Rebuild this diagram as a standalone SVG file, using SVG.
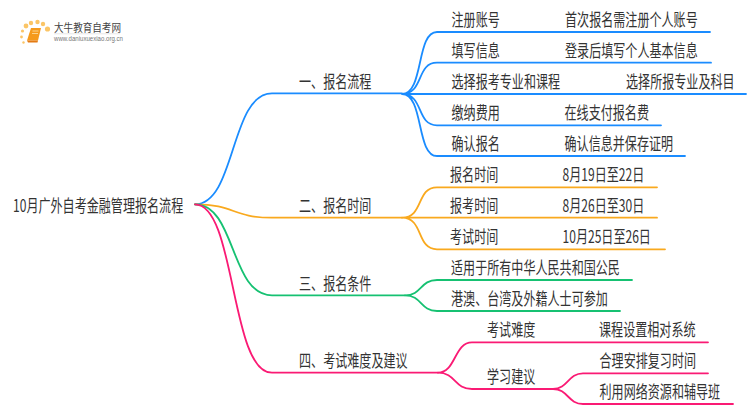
<svg xmlns="http://www.w3.org/2000/svg" width="750" height="410" viewBox="0 0 750 410">
<style>
text{font-family:"Noto Sans CJK SC","Microsoft YaHei",sans-serif;font-size:17px;fill:#333}
.l{fill:none;stroke-width:1.8;stroke-linecap:round}
.b{stroke:#1a8cff}.o{stroke:#f9a91e}.g{stroke:#16c172}.p{stroke:#fa1a74}
</style>
<rect width="750" height="410" fill="#fff"/>
<g id="logo">
<g fill="#fbc566"><circle cx="26" cy="26" r="2.4"/><circle cx="31" cy="23" r="2.200"/><circle cx="37.500" cy="22" r="2.200"/><circle cx="43" cy="24" r="2.200"/><circle cx="47.500" cy="29" r="2.600"/><circle cx="22.500" cy="31" r="1.600"/><circle cx="21.500" cy="37" r="1.400"/><circle cx="23.500" cy="42.500" r="1.200"/></g>
<path d="M31 28H41L38 40.500H27Z" fill="#f59a1c"/><path d="M27 40.500H38L37.500 42.500H28Z" fill="#e47a12"/><path d="M32.500 31H38.500M32 33.500H38" stroke="#fde2a8" stroke-width=".8"/>
<text transform="translate(54 32)" style="font-size:11px;fill:#444" textLength="67" lengthAdjust="spacingAndGlyphs">大牛教育自考网</text>
<path d="M54 33.800H120" stroke="#ddd" stroke-width=".7"/>
<text transform="translate(54 41)" style="font-size:6.500px;fill:#777;font-family:'Liberation Sans',sans-serif" textLength="69" lengthAdjust="spacingAndGlyphs">www.daniuxuexiao.org.cn</text>
</g>
<g id="connectors">
<path class="l b" d="M195 204.300C236 204.300 230 93.300 272 93.300H402"/>
<path class="l b" d="M402 94C424 94 416 32 437 32H710M402 94C424 94 416 62.700 437 62.700H711M402 94H746M402 94C424 94 416 125.300 437 125.300H661M402 94C424 94 416 156 437 156H685"/>
<path class="l o" d="M195 204.300C235 204.300 232 217.700 272 217.700H402"/>
<path class="l o" d="M402 217.700C424 217.700 416 187.300 437 187.300H657M402 217.700H657M402 217.700C424 217.700 416 249.300 437 249.300H665"/>
<path class="l g" d="M195 204.300C236 204.300 230 295.300 272 295.300H405"/>
<path class="l g" d="M405 295.300C422 295.300 420 280 437 280H632M405 295.300C422 295.300 420 311 437 311H620"/>
<path class="l p" d="M195 204.300C236 204.300 230 372.700 272 372.700H438"/>
<path class="l p" d="M438 372.700C456 372.700 454 342.300 472 342.300H708M438 372.700C456 372.700 454 389 472 389H553"/>
<path class="l p" d="M553 389C568 389 568 373.300 583 373.300H708M553 389C568 389 568 404 583 404H733"/>
</g>
<g id="root"><text transform="translate(13 212) scale(.71 1)">10月广外自考金融管理报名流程</text></g>
<g id="n1"><text transform="translate(299 87.500) scale(.71 1)">一、报名流程</text></g>
<g id="n1-1"><text transform="translate(451.500 25.500) scale(.71 1)">注册账号</text><text transform="translate(565 25.500) scale(.71 1)">首次报名需注册个人账号</text></g>
<g id="n1-2"><text transform="translate(451.500 56.500) scale(.71 1)">填写信息</text><text transform="translate(565 56.500) scale(.71 1)">登录后填写个人基本信息</text></g>
<g id="n1-3"><text transform="translate(451.500 87.500) scale(.71 1)">选择报考专业和课程</text><text transform="translate(626 87.500) scale(.71 1)">选择所报专业及科目</text></g>
<g id="n1-4"><text transform="translate(451.500 119) scale(.71 1)">缴纳费用</text><text transform="translate(564.500 119) scale(.71 1)">在线支付报名费</text></g>
<g id="n1-5"><text transform="translate(451.500 150) scale(.71 1)">确认报名</text><text transform="translate(564.500 150) scale(.71 1)">确认信息并保存证明</text></g>
<g id="n2"><text transform="translate(299 211.500) scale(.71 1)">二、报名时间</text></g>
<g id="n2-1"><text transform="translate(450 181) scale(.71 1)">报名时间</text><text transform="translate(562.500 181) scale(.71 1)">8月19日至22日</text></g>
<g id="n2-2"><text transform="translate(450 212) scale(.71 1)">报考时间</text><text transform="translate(562.500 212) scale(.71 1)">8月26日至30日</text></g>
<g id="n2-3"><text transform="translate(450 243) scale(.71 1)">考试时间</text><text transform="translate(562.500 243) scale(.71 1)">10月25日至26日</text></g>
<g id="n3"><text transform="translate(299 289.500) scale(.71 1)">三、报名条件</text></g>
<g id="n3-1"><text transform="translate(451 274) scale(.71 1)">适用于所有中华人民共和国公民</text></g>
<g id="n3-2"><text transform="translate(451 305) scale(.71 1)">港澳、台湾及外籍人士可参加</text></g>
<g id="n4"><text transform="translate(299 366.500) scale(.71 1)">四、考试难度及建议</text></g>
<g id="n4-1"><text transform="translate(487 336) scale(.71 1)">考试难度</text><text transform="translate(599 336) scale(.71 1)">课程设置相对系统</text></g>
<g id="n4-2"><text transform="translate(487 383) scale(.71 1)">学习建议</text></g>
<g id="n4-2-1"><text transform="translate(599.500 367) scale(.71 1)">合理安排复习时间</text></g>
<g id="n4-2-2"><text transform="translate(599.500 398) scale(.71 1)">利用网络资源和辅导班</text></g>
</svg>
